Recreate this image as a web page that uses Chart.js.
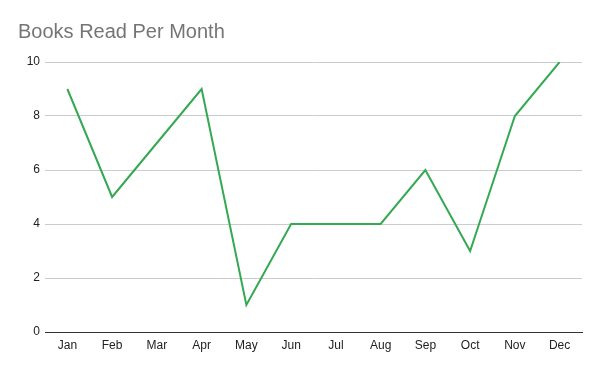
<!DOCTYPE html>
<html>
<head>
<meta charset="utf-8">
<style>
  html, body { margin: 0; padding: 0; background: #fff; }
  #chart { display: block; }
</style>
<script src="https://cdn.jsdelivr.net/npm/chart.js@4/dist/chart.umd.min.js"></script>
</head>
<body>
<canvas id="chart" width="600" height="371"></canvas>
<script>
// Chart data
const months = ['Jan', 'Feb', 'Mar', 'Apr', 'May', 'Jun', 'Jul', 'Aug', 'Sep', 'Oct', 'Nov', 'Dec'];
const booksRead = [9, 5, 7, 9, 1, 4, 4, 4, 6, 3, 8, 10];
const yTicks = [0, 2, 4, 6, 8, 10];

const ctx = document.getElementById('chart').getContext('2d');
new Chart(ctx, {
  type: 'line',
  data: {
    labels: months,
    datasets: [{
      label: 'Books Read',
      data: booksRead,
      borderColor: '#34a853',
      borderWidth: 2,
      pointRadius: 0,
      tension: 0,
      fill: false
    }]
  },
  options: {
    responsive: false,
    animation: false,
    layout: { padding: { left: 18, right: 18, top: 20, bottom: 0 } },
    plugins: {
      legend: { display: false },
      tooltip: { enabled: false },
      title: {
        display: true,
        text: 'Books Read Per Month',
        align: 'start',
        color: '#757575',
        font: { family: 'Liberation Sans, Arial, sans-serif', size: 20, weight: 'normal' },
        padding: { top: 0, bottom: 18 }
      }
    },
    scales: {
      x: {
        offset: true,
        grid: { display: false, drawTicks: false },
        border: { display: true, color: '#333333', width: 1 },
        ticks: {
          color: '#222222',
          padding: 6,
          maxRotation: 0,
          font: { family: 'Liberation Sans, Arial, sans-serif', size: 12 }
        },
        afterFit: scale => { scale.height = 39; }
      },
      y: {
        min: 0,
        max: 10,
        afterBuildTicks: scale => { scale.ticks = yTicks.map(v => ({ value: v })); },
        grid: { color: '#cccccc', drawTicks: false },
        border: { display: false },
        ticks: {
          color: '#222222',
          padding: 5,
          font: { family: 'Liberation Sans, Arial, sans-serif', size: 12 }
        },
        afterFit: scale => { scale.width = 27; }
      }
    }
  }
});
</script>
</body>
</html>
